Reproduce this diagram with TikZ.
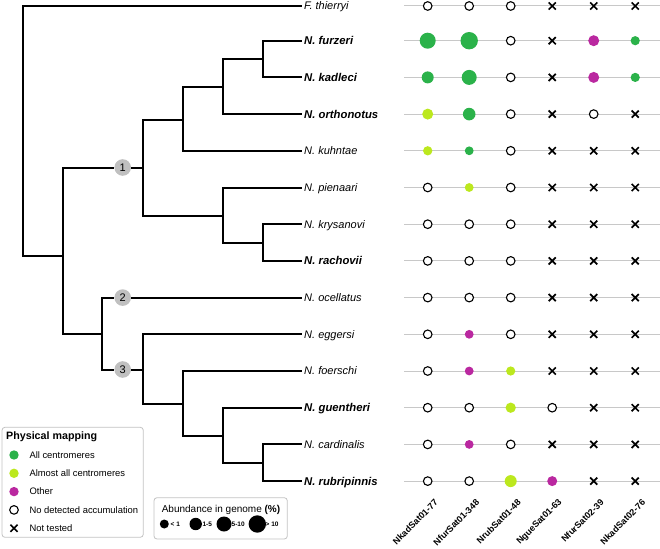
\documentclass[tikz,border=0pt]{standalone}
\usepackage{fontspec}
\setmainfont{Liberation Sans}
\usetikzlibrary{shapes.misc}
\definecolor{pmgreen}{RGB}{43,178,74}
\definecolor{pmlime}{RGB}{188,232,30}
\definecolor{pmmag}{RGB}{186,40,160}
\definecolor{nodegray}{RGB}{192,192,192}
\definecolor{rowgray}{RGB}{200,200,200}
\definecolor{boxgray}{RGB}{195,195,195}
\newcommand\cellO[2]{\node[openc] (cell-#1-#2) at (c#2 |- r#1) {};}
\newcommand\cellX[2]{\node[xmark] (cell-#1-#2) at (c#2 |- r#1) {};}
\newcommand\cellF[4]{\node[fillc=#3, minimum size=#4pt] (cell-#1-#2) at (c#2 |- r#1) {};}
\begin{document}
\begin{tikzpicture}[x=1pt,y=-1pt,
 treeline/.style={line width=2pt, black},
 clade/.style={circle, fill=nodegray, minimum size=16.6pt, inner sep=0, font=\fontsize{11}{13}\selectfont},
 leaflab/.style={anchor=west, inner xsep=2.5pt, inner ysep=0, text height=7.9pt, text depth=0pt, font=\fontsize{11}{13}\selectfont\itshape},
 leafbold/.style={leaflab, font=\fontsize{11.3}{13}\selectfont\bfseries\itshape},
 openc/.style={circle, draw=black, line width=1.1pt, fill=white, minimum size=8.6pt, inner sep=0},
 xmark/.style={cross out, draw=black, line width=1.7pt, minimum size=5.4pt, inner sep=0},
 fillc/.style={circle, fill=#1, inner sep=0},
 rowline/.style={line width=1pt, rowgray},
 collab/.style={rotate=45, anchor=east, inner sep=0, font=\fontsize{9}{10}\selectfont\bfseries},
 legbox/.style={draw=boxgray, line width=0.8pt, rounded corners=3pt, fill=white},
 legtext/.style={anchor=west, inner sep=0, font=\fontsize{9.4}{11}\selectfont},
 abtext/.style={anchor=west, inner sep=0, font=\fontsize{6.5}{8}\selectfont\bfseries},
]
\useasboundingbox (0,0) rectangle (660,548);
% rows and columns
\coordinate (r0) at (0,6);
\foreach \i in {1,...,13} \coordinate (r\i) at (0,{4+36.7*\i});
\foreach \j in {1,...,6} \coordinate (c\j) at ({427.7+41.5*(\j-1)},0);
% leaf labels
\node[leaflab]  (L0)  at (301.5,6)     {F. thierryi};
\node[leafbold] (L1)  at (301.5,40.7)  {N. furzeri};
\node[leafbold] (L2)  at (301.5,77.4)  {N. kadleci};
\node[leafbold] (L3)  at (301.5,114.1) {N. orthonotus};
\node[leaflab]  (L4)  at (301.5,150.8) {N. kuhntae};
\node[leaflab]  (L5)  at (301.5,187.5) {N. pienaari};
\node[leaflab]  (L6)  at (301.5,224.2) {N. krysanovi};
\node[leafbold] (L7)  at (301.5,260.9) {N. rachovii};
\node[leaflab]  (L8)  at (301.5,297.6) {N. ocellatus};
\node[leaflab]  (L9)  at (301.5,334.3) {N. eggersi};
\node[leaflab]  (L10) at (301.5,371.0) {N. foerschi};
\node[leafbold] (L11) at (301.5,407.7) {N. guentheri};
\node[leaflab]  (L12) at (301.5,444.4) {N. cardinalis};
\node[leafbold] (L13) at (301.5,481.1) {N. rubripinnis};
% internal nodes
\coordinate (nR) at (22.5,256);
\coordinate (nA) at (62.7,256);
\node[clade] (k1) at (122.7,167.5) {1};
\coordinate (n1) at (143.3,167.5);
\coordinate (nC) at (183.3,120);
\coordinate (nE) at (222.7,87.5);
\coordinate (nF) at (263.3,59);
\coordinate (nD) at (222.7,215.5);
\coordinate (nG) at (263.3,242.5);
\coordinate (nB) at (101.7,334.3);
\node[clade] (k2) at (122.7,297.6) {2};
\node[clade] (k3) at (122.7,369.5) {3};
\coordinate (n3) at (143.3,369.5);
\coordinate (nH) at (183.3,403.5);
\coordinate (nI) at (222.7,436);
\coordinate (nJ) at (263.3,462.8);
% tree
\draw[treeline] (L0.west) -| (nR) -- (nA);
\draw[treeline] (nA) |- (k1);
\draw[treeline] (k1) -- (n1);
\draw[treeline] (nA) |- (nB);
\draw[treeline] (n1) |- (nC);
\draw[treeline] (n1) |- (nD);
\draw[treeline] (nC) |- (nE);
\draw[treeline] (nC) |- (L4.west);
\draw[treeline] (nE) |- (nF);
\draw[treeline] (nE) |- (L3.west);
\draw[treeline] (nF) |- (L1.west);
\draw[treeline] (nF) |- (L2.west);
\draw[treeline] (nD) |- (L5.west);
\draw[treeline] (nD) |- (nG);
\draw[treeline] (nG) |- (L6.west);
\draw[treeline] (nG) |- (L7.west);
\draw[treeline] (nB) |- (k2);
\draw[treeline] (k2) -- (L8.west);
\draw[treeline] (nB) |- (k3);
\draw[treeline] (k3) -- (n3);
\draw[treeline] (n3) |- (L9.west);
\draw[treeline] (n3) |- (nH);
\draw[treeline] (nH) |- (L10.west);
\draw[treeline] (nH) |- (nI);
\draw[treeline] (nI) |- (L11.west);
\draw[treeline] (nI) |- (nJ);
\draw[treeline] (nJ) |- (L12.west);
\draw[treeline] (nJ) |- (L13.west);
% row lines
\foreach \i in {0,...,13} {
  \coordinate (gs\i) at (404,0 |- r\i);
  \coordinate (ge\i) at (660,0 |- r\i);
  \draw[rowline] (gs\i) -- (ge\i);
}
% cells
\cellO{0}{1}\cellO{0}{2}\cellO{0}{3}\cellX{0}{4}\cellX{0}{5}\cellX{0}{6}
\cellF{1}{1}{pmgreen}{16}\cellF{1}{2}{pmgreen}{17.4}\cellO{1}{3}\cellX{1}{4}\cellF{1}{5}{pmmag}{11}\cellF{1}{6}{pmgreen}{9.2}
\cellF{2}{1}{pmgreen}{12}\cellF{2}{2}{pmgreen}{15}\cellO{2}{3}\cellX{2}{4}\cellF{2}{5}{pmmag}{11}\cellF{2}{6}{pmgreen}{9.2}
\cellF{3}{1}{pmlime}{11}\cellF{3}{2}{pmgreen}{12.6}\cellO{3}{3}\cellX{3}{4}\cellO{3}{5}\cellX{3}{6}
\cellF{4}{1}{pmlime}{9.3}\cellF{4}{2}{pmgreen}{8.8}\cellO{4}{3}\cellX{4}{4}\cellX{4}{5}\cellX{4}{6}
\cellO{5}{1}\cellF{5}{2}{pmlime}{8.8}\cellO{5}{3}\cellX{5}{4}\cellX{5}{5}\cellX{5}{6}
\cellO{6}{1}\cellO{6}{2}\cellO{6}{3}\cellX{6}{4}\cellX{6}{5}\cellX{6}{6}
\cellO{7}{1}\cellO{7}{2}\cellO{7}{3}\cellX{7}{4}\cellX{7}{5}\cellX{7}{6}
\cellO{8}{1}\cellO{8}{2}\cellO{8}{3}\cellX{8}{4}\cellX{8}{5}\cellX{8}{6}
\cellO{9}{1}\cellF{9}{2}{pmmag}{8.8}\cellO{9}{3}\cellX{9}{4}\cellX{9}{5}\cellX{9}{6}
\cellO{10}{1}\cellF{10}{2}{pmmag}{8.8}\cellF{10}{3}{pmlime}{9.2}\cellX{10}{4}\cellX{10}{5}\cellX{10}{6}
\cellO{11}{1}\cellO{11}{2}\cellF{11}{3}{pmlime}{10.3}\cellO{11}{4}\cellX{11}{5}\cellX{11}{6}
\cellO{12}{1}\cellF{12}{2}{pmmag}{8.8}\cellO{12}{3}\cellX{12}{4}\cellX{12}{5}\cellX{12}{6}
\cellO{13}{1}\cellO{13}{2}\cellF{13}{3}{pmlime}{12}\cellF{13}{4}{pmmag}{10}\cellX{13}{5}\cellX{13}{6}
% column labels
\node[collab] (h1) at (436.2,501) {NkadSat01-77};
\node[collab] (h2) at (477.7,501) {NfurSat01-348};
\node[collab] (h3) at (519.2,501) {NrubSat01-48};
\node[collab] (h4) at (560.7,501) {NgueSat01-63};
\node[collab] (h5) at (602.2,501) {NfurSat02-39};
\node[collab] (h6) at (643.7,501) {NkadSat02-76};
% legend: physical mapping
\draw[legbox] (2,427.3) rectangle (143.3,537.3);
\node[anchor=base west, inner sep=0, font=\fontsize{10.7}{12}\selectfont\bfseries] (legtitle) at (6,439) {Physical mapping};
\node[fillc=pmgreen, minimum size=9.4pt] (lg1) at (14,455) {};
\node[legtext] (lt1) at (29.3,455) {All centromeres};
\node[fillc=pmlime, minimum size=9.4pt] (lg2) at (14,473.3) {};
\node[legtext] (lt2) at (29.3,473.3) {Almost all centromeres};
\node[fillc=pmmag, minimum size=9.4pt] (lg3) at (14,491.6) {};
\node[legtext] (lt3) at (29.3,491.6) {Other};
\node[openc] (lg4) at (14,509.9) {};
\node[legtext] (lt4) at (29.3,509.9) {No detected accumulation};
\node[xmark] (lg5) at (14,528.2) {};
\node[legtext] (lt5) at (29.3,528.2) {Not tested};
% legend: abundance
\draw[legbox] (154,497.7) rectangle (287.3,539);
\node[inner sep=0, font=\fontsize{10}{12}\selectfont] (abt) at (221,510) {Abundance in genome \textbf{(\%)}};
\node[fillc=black, minimum size=9pt] (a1) at (164.3,524) {};
\node[abtext] (at1) at (170.5,524) {< 1};
\node[fillc=black, minimum size=12.4pt] (a2) at (195.7,524) {};
\node[abtext] (at2) at (202.3,524) {1-5};
\node[fillc=black, minimum size=15pt] (a3) at (224,524) {};
\node[abtext] (at3) at (231.5,524) {5-10};
\node[fillc=black, minimum size=17.4pt] (a4) at (257.3,524) {};
\node[abtext] (at4) at (265.5,524) {> 10};
\end{tikzpicture}
\end{document}
